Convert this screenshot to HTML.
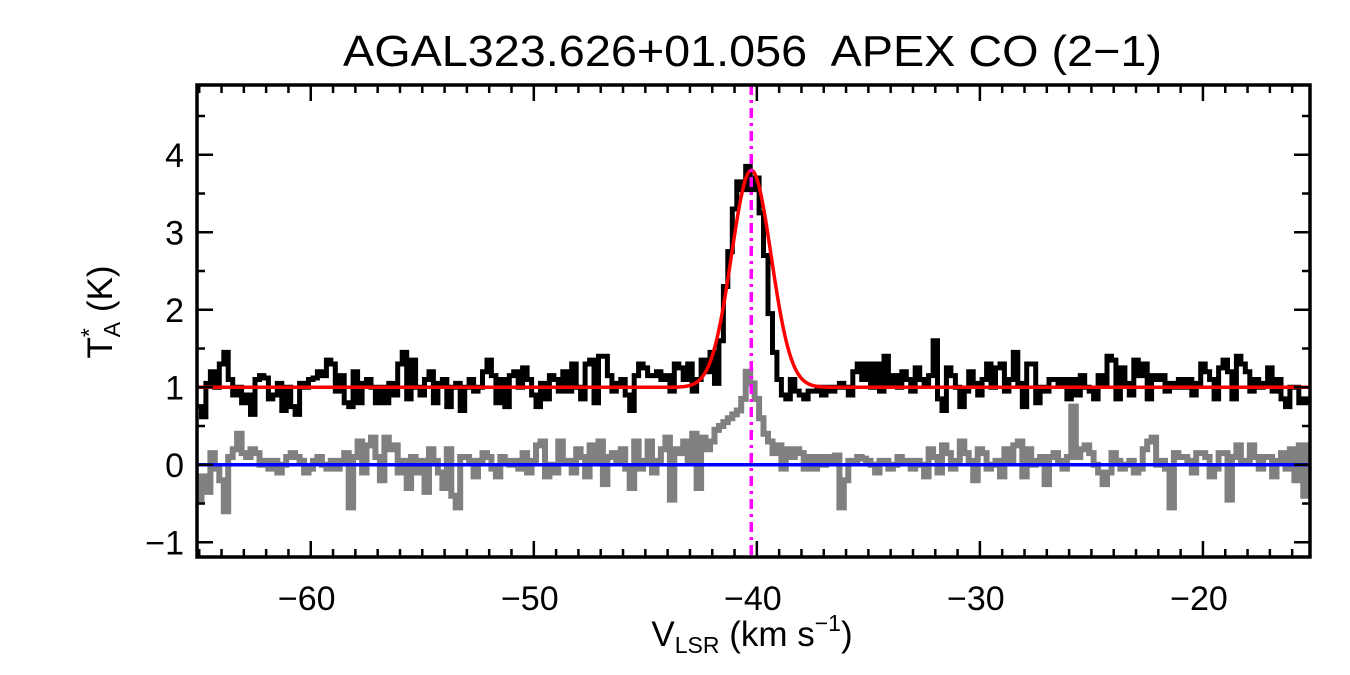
<!DOCTYPE html>
<html><head><meta charset="utf-8"><style>
html,body{margin:0;padding:0;background:#fff;width:1350px;height:675px;overflow:hidden}
svg{display:block;font-family:"Liberation Sans",sans-serif}
</style></head><body>
<svg id="chart" width="1350" height="675" viewBox="0 0 1350 675" xmlns="http://www.w3.org/2000/svg">
<rect width="1350" height="675" fill="#fff"/>
<text x="343" y="66" font-size="44" textLength="819" lengthAdjust="spacingAndGlyphs" fill="#000" xml:space="preserve">AGAL323.626+01.056  APEX CO (2−1)</text>
<g id="series"></g>
<g id="axes"></g>
<text x="752" y="646" font-size="35" text-anchor="middle" fill="#000">V<tspan font-size="23" dy="7">LSR</tspan><tspan dy="-7"> (km s</tspan><tspan font-size="23" dy="-15">−1</tspan><tspan dy="15">)</tspan></text>
<text transform="translate(112,312) rotate(-90)" font-size="35" text-anchor="middle" fill="#000">T<tspan font-size="23" dy="-15">*</tspan><tspan font-size="23" dx="-9" dy="23">A</tspan><tspan dy="-8"> (K)</tspan></text>
</svg>
<script>
const xMin=-65.1, xMax=-15.2, yMin=-1.19, yMax=4.9;
const v0=-65.1, dv=0.2;
const xTicks=[-60,-50,-40,-30,-20];
const xTickLabels=["−60","−50","−40","−30","−20"];
const yTicks=[-1,0,1,2,3,4];
const yTickLabels=["−1","0","1","2","3","4"];
const markerVelocity=-40.25;
const fitAmp=2.8, fitCenter=-40.25, fitSigma=0.89, fitBase=1.0;
const baselineLevel=0;
const coSpectrum=[0.75,0.62,1.05,1.2,1.0,1.3,1.45,1.1,0.9,1.0,
0.8,0.9,0.65,1.1,1.15,1.12,0.85,0.9,1.05,0.7,
1.0,0.75,0.65,1.05,1.0,1.1,1.12,1.2,1.15,1.35,
1.3,0.95,1.15,0.8,0.75,1.2,0.8,1.05,1.1,1.0,
0.8,1.0,0.8,1.05,0.9,1.3,1.45,0.85,1.35,1.0,
0.9,1.1,1.2,0.8,1.05,1.1,0.75,1.0,1.05,0.7,
1.0,1.1,0.95,1.0,1.2,1.35,1.15,0.8,1.1,0.75,
1.15,1.2,1.0,1.25,1.1,0.9,0.75,1.05,0.85,1.15,
1.1,0.95,1.2,0.95,1.3,1.0,0.85,1.3,1.35,0.8,
1.4,1.4,1.15,0.95,1.05,1.1,0.9,0.7,1.15,1.3,
1.25,1.15,1.15,1.2,1.1,1.15,0.95,1.3,1.25,1.1,
1.3,0.95,1.1,1.35,1.2,1.45,1.05,1.6,2.3,2.75,
3.3,3.65,3.55,3.85,3.55,3.7,3.25,2.7,1.95,1.45,
1.1,0.9,0.85,1.1,0.95,0.9,0.85,0.95,0.95,1.0,
0.9,1.0,0.95,1.0,1.05,1.0,0.9,1.2,1.3,1.1,
1.3,1.0,1.3,0.95,1.4,1.05,1.15,1.0,1.2,1.1,
0.95,1.25,1.1,1.05,1.15,1.6,0.85,0.7,1.25,1.15,
1.0,0.75,0.95,1.2,1.05,0.9,1.1,1.3,1.0,1.25,
1.3,0.95,1.1,1.45,1.05,0.75,1.3,1.3,0.8,1.0,
0.95,1.1,1.1,1.05,1.1,0.85,1.1,0.9,1.15,1.0,
0.95,0.85,1.15,1.05,1.4,1.35,0.85,1.25,1.05,0.9,
1.35,1.15,1.3,0.85,1.15,1.1,1.15,0.95,1.05,1.0,
1.1,1.0,1.1,0.9,1.05,1.3,1.2,1.1,0.85,1.25,
1.35,1.2,0.85,1.4,1.3,1.2,0.95,1.1,1.0,1.05,
1.25,0.95,1.1,0.85,0.75,1.0,1.0,0.8,0.85,0.8];
const greySpectrum=[-0.45,-0.15,-0.35,0.15,-0.05,-0.2,-0.6,0.1,0.2,0.4,
0.15,0.1,0.2,0.15,0.0,0.05,-0.05,0.05,-0.1,0.0,
0.1,0.15,0.1,0.05,-0.1,-0.05,0.05,0.1,0.0,-0.05,
0.05,-0.05,0.05,0.15,-0.55,0.1,0.3,-0.1,0.25,0.35,
0.1,-0.2,0.35,0.2,0.25,-0.1,0.05,-0.3,0.1,-0.1,
0.05,-0.35,0.2,0.05,-0.1,-0.3,0.2,-0.4,-0.55,0.1,
0.1,0.05,-0.15,0.05,0.15,0.1,-0.05,-0.15,0.1,0.05,
0.0,0.05,-0.05,0.15,-0.1,0.05,0.25,0.3,-0.15,0.0,
-0.1,0.3,0.05,0.05,-0.1,0.2,0.1,-0.15,0.25,0.05,
0.3,-0.25,0.1,0.15,0.05,0.2,-0.05,-0.3,0.3,-0.05,
0.05,0.3,-0.1,0.05,0.2,0.35,-0.45,0.2,0.15,0.3,
0.05,0.4,-0.3,0.35,0.2,0.3,0.45,0.5,0.55,0.6,
0.65,0.7,0.85,1.2,1.05,0.85,0.6,0.4,0.3,0.15,
0.25,-0.05,0.2,0.1,0.2,0.15,-0.05,0.1,-0.05,0.1,
0.0,0.1,0.05,0.12,-0.55,-0.2,0.05,0.05,0.1,0.08,
0.05,0.0,-0.1,0.05,0.05,-0.05,0.0,0.1,0.05,0.05,
-0.05,0.05,0.0,-0.15,0.2,0.1,-0.1,0.25,0.15,-0.05,
0.05,0.3,0.15,0.05,-0.2,0.2,0.15,-0.05,0.0,0.05,
-0.15,0.2,0.05,0.25,0.3,-0.15,0.2,0.0,0.05,0.1,
-0.25,0.1,0.15,0.05,-0.05,0.1,0.75,0.1,0.2,0.25,
0.15,0.0,-0.1,-0.25,-0.1,0.15,0.05,-0.05,0.0,0.05,
-0.1,-0.05,0.2,0.3,0.35,0.0,0.05,-0.05,-0.55,0.15,
0.1,0.1,0.05,-0.1,0.15,0.15,0.1,-0.15,-0.05,0.15,
0.15,-0.45,0.1,0.25,0.05,0.05,0.25,0.1,-0.05,0.1,
0.1,-0.15,0.05,0.15,-0.05,0.2,-0.2,0.25,-0.4,0.25];

const L=197,R=1310,T=85,B=557;
const sx=v=>L+(v-xMin)/(xMax-xMin)*(R-L);
const sy=y=>B-(y-yMin)/(yMax-yMin)*(B-T);
const NS="http://www.w3.org/2000/svg";
const series=document.getElementById('series');
const axes=document.getElementById('axes');
function mk(tag,parent,attrs){const e=document.createElementNS(NS,tag);for(const k in attrs)e.setAttribute(k,attrs[k]);parent.appendChild(e);return e;}
function stepPath(arr){let d='';arr.forEach((y,i)=>{const a=Math.max(sx(v0+i*dv),L),b=Math.min(sx(v0+(i+1)*dv),R);d+=(i?'L':'M')+a.toFixed(1)+','+sy(y).toFixed(1)+'L'+b.toFixed(1)+','+sy(y).toFixed(1);});return d;}
const clip=mk('clipPath',series,{id:'pc'});mk('rect',clip,{x:L,y:T,width:R-L,height:B-T});
const g=mk('path',series,{d:stepPath(greySpectrum),fill:'none',stroke:'#808080','stroke-width':6,'clip-path':'url(#pc)'});


const bl=mk('line',series,{x1:L,x2:R,y1:sy(baselineLevel),y2:sy(baselineLevel),stroke:'#0000ff','stroke-width':3.5});


const k=mk('path',series,{d:stepPath(coSpectrum),fill:'none',stroke:'#000','stroke-width':5,'clip-path':'url(#pc)'});


let fd='';for(let x=L;x<=R;x+=1){const v=xMin+(x-L)/(R-L)*(xMax-xMin);const y=fitBase+fitAmp*Math.exp(-0.5*Math.pow((v-fitCenter)/fitSigma,2));fd+=(x===L?'M':'L')+x+','+sy(y).toFixed(1);}
const f=mk('path',series,{d:fd,fill:'none',stroke:'#ff0000','stroke-width':3.5});


const m=mk('line',series,{x1:sx(markerVelocity),x2:sx(markerVelocity),y1:T,y2:B,stroke:'#ff00ff','stroke-width':3.5,'stroke-dasharray':'10,5,3,5'});


const fr=mk('rect',axes,{x:L,y:T,width:R-L,height:B-T,fill:'none',stroke:'#000','stroke-width':3.5});


for(let v=Math.ceil(xMin);v<=xMax;v++){const maj=v%10===0;const len=maj?16:8;const x=sx(v);
 const t1=mk('line',axes,{x1:x,x2:x,y1:B,y2:B-len,stroke:'#000','stroke-width':2.5});
 
 
 const t2=mk('line',axes,{x1:x,x2:x,y1:T,y2:T+len,stroke:'#000','stroke-width':2.5});
 
 }
xTicks.forEach((v,i)=>{const t=mk('text',axes,{x:sx(v)-4,y:610,'font-size':34,'text-anchor':'middle',fill:'#000'});t.textContent=xTickLabels[i];
 
 });
for(let y=Math.ceil(yMin*2)/2;y<=yMax;y+=0.5){const maj=Math.abs(y-Math.round(y))<1e-6;const len=maj?16:8;const yy=sy(y);
 const t1=mk('line',axes,{x1:L,x2:L+len,y1:yy,y2:yy,stroke:'#000','stroke-width':2.5});
 
 
 const t2=mk('line',axes,{x1:R,x2:R-len,y1:yy,y2:yy,stroke:'#000','stroke-width':2.5});
 
 }
yTicks.forEach((y,i)=>{const t=mk('text',axes,{x:184,y:sy(y)+12,'font-size':34,'text-anchor':'end',fill:'#000'});t.textContent=yTickLabels[i];
 
 });
</script>
</body></html>
